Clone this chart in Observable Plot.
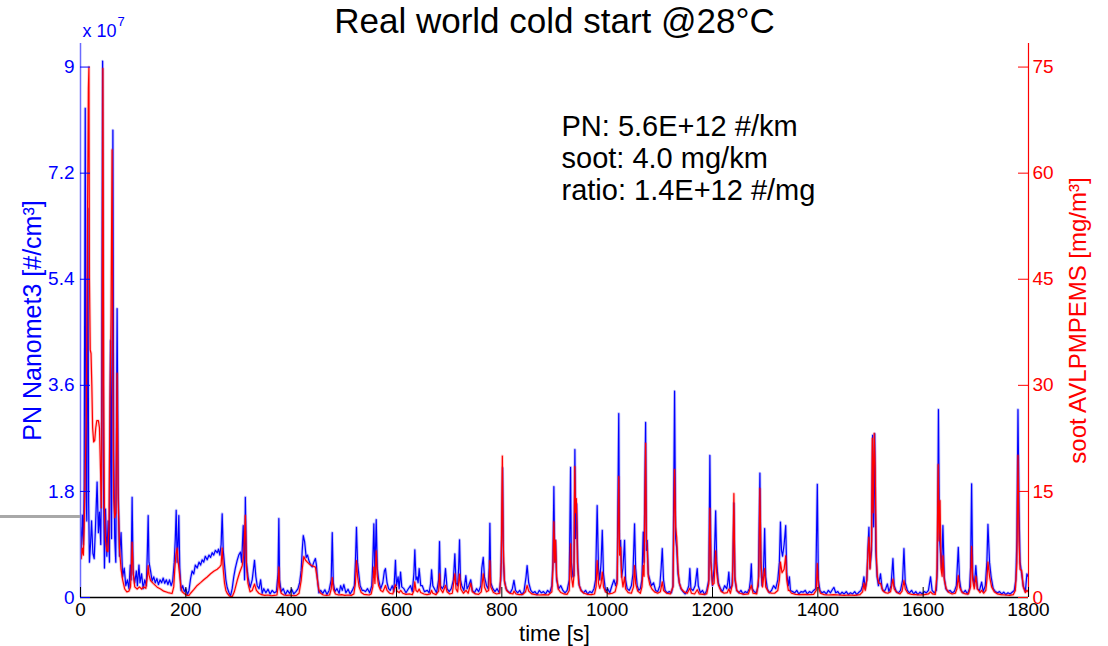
<!DOCTYPE html>
<html>
<head>
<meta charset="utf-8">
<script src="https://cdn.jsdelivr.net/npm/d3@7"></script>
<script src="https://cdn.jsdelivr.net/npm/@observablehq/plot@0.6"></script>
<style>
  html, body { margin: 0; padding: 0; background: #fff; }
  #wrap { position: relative; width: 1108px; height: 646px; overflow: hidden; }
  #edge { position: absolute; left: 0; top: 515px; width: 80px; height: 3px; background: #a8a8a8; }
</style>
</head>
<body>
<div id="wrap"><div id="edge"></div></div>
<script>
// ---- text ----
const titleText = "Real world cold start @28°C";
const xLabel = "time [s]";
const leftLabel = "PN Nanomet3 [#/cm³]";
const rightLabel = "soot AVLPMPEMS [mg/m³]";
const exponentBase = "x 10";
const exponentPower = "7";
const annotationLines = ["PN: 5.6E+12 #/km", "soot: 4.0 mg/km", "ratio: 1.4E+12 #/mg"];

// ---- ticks ----
const timeTicks = [0, 200, 400, 600, 800, 1000, 1200, 1400, 1600, 1800];
const pnTicks = [0, 1.8, 3.6, 5.4, 7.2, 9];          // x 10^7 #/cm3
const sootTicks = [0, 15, 30, 45, 60, 75];           // mg/m3

// ---- PN (Nanomet3), [time s, value x1e7 #/cm3] ----
const pnPoints = [[0,1.2],[1.5,0.75],[3.5,1.4],[5.5,0.9],[7,1.9],[9,8.3],[10.5,1.8],[12,1.3],[14,6.6],[15.5,1.6],[17,0.6],[19,0.9],[21,1.3],[23.5,0.75],[26,0.66],[28.5,1.2],[31.5,1.96],[34,1.1],[36,1.45],[38.5,0.9],[40,2.5],[42,9.1],[43.5,2.0],[45.5,0.5],[47.5,1.5],[50,0.7],[52.5,1.3],[55,0.6],[57,4.36],[59,1.0],[61.5,7.93],[63,2.5],[65,1.0],[67,0.6],[69.5,4.9],[71.5,1.9],[74,0.7],[77,1.1],[80,0.35],[83,0.5],[86,0.2],[89,0.3],[92,0.15],[94.5,0.55],[96,0.3],[98,1.70],[100,0.4],[103,0.25],[106,0.45],[108,0.2],[111,0.55],[113,0.25],[116,0.4],[119,0.15],[122,0.3],[125,0.2],[127,0.8],[128.5,1.39],[130,0.6],[133,0.45],[136,0.28],[139,0.35],[142,0.25],[145,0.32],[148,0.22],[151,0.3],[154,0.25],[157,0.33],[160,0.24],[163,0.3],[166,0.22],[169,0.3],[172,0.2],[175,0.28],[178,0.6],[180,1.0],[181.7,1.48],[183.5,0.6],[185,0.9],[186.7,1.39],[188.5,0.5],[191,0.12],[194,0.2],[197,0.1],[200,0.15],[203,0.05],[206,0.12],[209,0.32],[212,0.45],[215,0.4],[218,0.55],[221.6,0.5],[225,0.6],[228,0.55],[231,0.64],[234,0.6],[237,0.7],[240.5,0.64],[244,0.72],[247,0.68],[250,0.76],[253,0.72],[256,0.8],[259.6,0.76],[262,0.82],[264.6,0.72],[267,0.9],[269,1.42],[271,0.8],[273.5,0.55],[276,0.3],[278.5,0.17],[282,0.08],[285,0.03],[288,0.15],[291,0.35],[294,0.5],[297.5,0.63],[300.5,0.72],[303.8,0.77],[306,0.6],[309,1.22],[311.5,0.3],[313,1.70],[315,0.6],[318,0.35],[322,0.17],[326,0.3],[330.4,0.63],[333,0.35],[335.5,0.2],[339,0.15],[342,0.3],[345,0.07],[348,0.15],[352,0.08],[356,0.14],[360,0.06],[364,0.12],[368,0.08],[372,0.1],[375,0.4],[376.6,1.34],[378,0.3],[381,0.1],[385,0.15],[389,0.05],[393,0.12],[397,0.07],[401,0.14],[405,0.06],[409,0.1],[413,0.15],[416,0.25],[419,0.46],[421,0.8],[423,1.05],[425.5,0.95],[428.5,0.68],[431,0.72],[433.6,0.63],[437,0.55],[440,0.52],[443,0.6],[446,0.66],[448,0.55],[449.5,0.35],[452.6,0.08],[456,0.12],[460,0.07],[464,0.13],[468,0.05],[472,0.12],[476,0.3],[478,1.10],[480,0.25],[483,0.1],[487,0.15],[491,0.07],[494,0.2],[497,0.12],[500,0.22],[504,0.08],[508,0.14],[512,0.06],[516,0.12],[520,0.2],[522,0.6],[524,1.19],[526,0.6],[529,0.35],[531,0.2],[535,0.12],[538,0.12],[541,0.1],[545,0.15],[549,0.08],[553,0.2],[555,0.6],[557,1.25],[559,0.4],[561.5,1.32],[563.5,0.5],[566,0.3],[570,0.15],[574,0.25],[577,0.45],[579,0.49],[582,0.25],[585,0.15],[588,0.12],[592,0.2],[595,0.1],[598,0.63],[600,0.2],[603,0.35],[605,0.15],[607.7,0.43],[610,0.18],[614,0.15],[618,0.08],[622,0.14],[626.7,0.2],[630,0.1],[633,0.4],[634.8,0.81],[637,0.3],[639,0.35],[641,0.25],[643,0.49],[646,0.2],[649,0.2],[653,0.1],[658.5,0.12],[662,0.08],[665,0.25],[666.6,0.47],[669,0.2],[672,0.15],[676,0.08],[680,0.3],[681.7,0.95],[683.5,0.2],[687,0.15],[690,0.2],[693,0.49],[696,0.15],[700,0.1],[704,0.15],[708,0.3],[710.8,0.74],[713,0.25],[716,0.2],[718,0.5],[719.7,0.98],[721.5,0.3],[724,0.2],[728,0.12],[731.7,0.37],[734,0.15],[737,0.2],[741,0.3],[744,0.12],[748,0.08],[752,0.15],[756,0.1],[760,0.2],[762,0.5],[764.7,0.68],[767,0.35],[771,0.2],[774,0.15],[776,0.5],[777.3,1.26],[779,0.25],[783,0.15],[787,0.1],[791,0.15],[795,0.08],[798,0.3],[800,1.2],[801.4,2.2],[803,0.6],[805,0.29],[808,0.15],[812,0.1],[816,0.08],[820,0.15],[823,0.29],[826,0.12],[830,0.08],[834,0.12],[838,0.05],[842,0.1],[846,0.35],[848,0.54],[851,0.25],[855,0.12],[859,0.08],[863,0.1],[867,0.05],[871,0.12],[875,0.08],[879,0.1],[883,0.06],[887,0.12],[891,0.08],[895,0.2],[897,0.6],[898.8,1.88],[900.5,0.6],[902,0.97],[904,0.3],[908,0.15],[912,0.2],[916,0.12],[920,0.08],[924,0.12],[928,0.3],[930.5,2.21],[932,0.6],[935,0.35],[937,0.37],[938.7,2.51],[940,1.0],[942,1.59],[944.5,0.5],[947,0.2],[951,0.12],[955,0.08],[959,0.12],[963,0.06],[967,0.1],[971,0.08],[975,0.15],[978,0.3],[981,1.56],[983.5,0.5],[986,0.3],[988.5,0.6],[990.7,1.14],[993,0.4],[997,0.1],[1001,0.15],[1005,0.08],[1009,0.2],[1013,0.3],[1016,0.2],[1019,0.3],[1022,3.12],[1023.5,0.8],[1025.5,0.97],[1027.5,0.35],[1030,0.5],[1033,0.97],[1035,0.3],[1038,0.15],[1042,0.12],[1046,0.2],[1049,0.4],[1052,1.25],[1054,0.5],[1057,0.2],[1060,0.12],[1063,0.15],[1066,0.3],[1068.5,1.11],[1070,0.6],[1073,2.97],[1074.5,0.8],[1076,0.97],[1078,0.4],[1081,0.3],[1084,0.2],[1088,0.25],[1092,0.12],[1096,0.1],[1100,0.2],[1102.5,0.5],[1104.6,0.83],[1107,0.3],[1110,0.12],[1114,0.08],[1118,0.1],[1122,0.08],[1125,0.2],[1128,3.50],[1130,1.0],[1132,0.85],[1134.5,0.4],[1137,0.25],[1140,0.15],[1144,0.1],[1148,0.06],[1152,0.12],[1155,0.2],[1157,0.49],[1159,0.15],[1163,0.12],[1167,0.2],[1171,0.49],[1173,0.2],[1177,0.08],[1181,0.12],[1185,0.05],[1189,0.12],[1193,0.3],[1195,2.41],[1197,0.6],[1200,0.2],[1203,0.5],[1206,1.47],[1208,0.6],[1211,0.25],[1215,0.15],[1219,0.1],[1223,0.2],[1227,0.15],[1229,0.25],[1231,0.43],[1233,0.15],[1237,0.2],[1239,0.6],[1240.6,1.6],[1242.5,0.3],[1246,0.12],[1250,0.08],[1254,0.12],[1258,0.06],[1262,0.1],[1266,0.08],[1270,0.15],[1272,0.3],[1273.7,0.57],[1275.5,0.15],[1279,0.1],[1283,0.08],[1287,0.2],[1290,2.11],[1292,0.5],[1294,0.2],[1297,0.5],[1299,1.17],[1301,0.35],[1304,0.15],[1308,0.08],[1312,0.12],[1316,0.2],[1320,0.15],[1324,0.3],[1327,0.6],[1329,1.28],[1331,0.8],[1333,0.7],[1336,0.9],[1339,1.22],[1341,0.4],[1344,0.2],[1346,0.35],[1348,0.12],[1352,0.1],[1356,0.08],[1360,0.12],[1364,0.06],[1368,0.1],[1372,0.09],[1376,0.12],[1380,0.06],[1384,0.1],[1388,0.08],[1392,0.12],[1396,0.15],[1399,1.92],[1401,0.3],[1404,0.12],[1408,0.08],[1412,0.1],[1416,0.06],[1420,0.12],[1424,0.08],[1428,0.14],[1430.6,0.17],[1434,0.08],[1438,0.1],[1442,0.05],[1446,0.09],[1450,0.06],[1454,0.1],[1458,0.05],[1462,0.08],[1466,0.06],[1470,0.1],[1474,0.05],[1478,0.09],[1482,0.12],[1485,0.2],[1487.5,0.35],[1490,0.15],[1493,0.3],[1495,0.8],[1497,1.19],[1499,0.5],[1502,0.8],[1504,2.75],[1506,1.2],[1508,2.78],[1510,0.8],[1512.5,0.35],[1515,0.2],[1519,0.4],[1522,0.15],[1526,0.1],[1529,0.15],[1532,0.23],[1535,0.1],[1539,0.2],[1542.6,0.66],[1545,0.2],[1549,0.1],[1553,0.08],[1557,0.12],[1561,0.3],[1563.5,0.83],[1566,0.25],[1570,0.12],[1574,0.08],[1578,0.12],[1582,0.06],[1586,0.1],[1590,0.05],[1594,0.09],[1598,0.06],[1602,0.1],[1606,0.08],[1610,0.12],[1614,0.35],[1617,0.12],[1621,0.08],[1625,0.12],[1627,0.5],[1629,3.19],[1631,1.0],[1633,0.75],[1635,0.5],[1637.5,1.22],[1640,0.35],[1643,0.15],[1647,0.1],[1651,0.12],[1655,0.08],[1659,0.1],[1663,0.2],[1666.7,0.85],[1669,0.3],[1672,0.12],[1676,0.08],[1680,0.12],[1684,0.06],[1688,0.15],[1690,0.5],[1692,1.93],[1694,0.4],[1697,0.2],[1700,0.54],[1703,0.15],[1707,0.12],[1711,0.26],[1714,0.1],[1718,0.2],[1721,0.6],[1723,1.24],[1726,0.6],[1729,0.35],[1733,0.15],[1737,0.1],[1741,0.08],[1745,0.1],[1749,0.06],[1753,0.09],[1757,0.05],[1761,0.08],[1765,0.06],[1769,0.09],[1773,0.12],[1776,0.3],[1778,1.0],[1780,3.19],[1782,1.5],[1784,0.6],[1787,0.4],[1790,0.2],[1794,0.1],[1797,0.4],[1800,0.35]];

// ---- soot (AVL PM PEMS), [time s, mg/m3] ----
const sootPoints = [[0,8.5],[1.5,5.5],[3.5,7],[5.5,6],[7,10],[9,18],[11,25],[13,50],[15,72],[16,75],[17,45],[18.5,35],[20,34.5],[21.5,30],[23,24],[25,22],[27,22.2],[29,24],[31,25],[34,25],[36,24],[38,18],[39.5,12.7],[41,30],[42.5,74.8],[44,30],[45.5,12],[47.5,8],[50,6.6],[52,6.5],[54,10],[56,28],[58,40],[60,63.3],[61.5,30],[63,14],[65,11.3],[67,12],[69.5,31.7],[71.5,14],[74,7],[77,4],[80,2.5],[84,1.2],[88,0.8],[92,0.9],[95,1.5],[97,5],[98,7.8],[100,3.5],[103,1.5],[107.6,1.2],[112,1.5],[116,1.2],[120,1.5],[124,1.3],[127,3],[128.5,4.5],[130,3.2],[133,2.4],[138,2.0],[145.6,1.46],[152,1.2],[158,0.9],[166,0.7],[174,0.57],[177,1.5],[179,4],[181,6],[183.5,7.0],[185.5,5],[188,3.4],[190.5,1.5],[193,0.8],[198,0.5],[202.6,0.3],[206,0.3],[209,0.6],[215,1.1],[221.6,1.7],[228,2.1],[234,2.5],[240.5,2.9],[247,3.35],[253,3.7],[259.6,4.0],[264,4.3],[267,4.6],[269,7.0],[271,4],[273.5,2.0],[276,1.0],[278.5,0.6],[283,0.2],[288,0.1],[292,0.8],[297.5,2.4],[302,3.5],[307,4.5],[310,6],[313,11.6],[315,4.5],[318,2],[322,0.8],[326,1.0],[330.4,1.9],[334,1.0],[338.6,0.6],[344,0.4],[350,0.3],[356,0.35],[362,0.25],[368,0.3],[373,0.35],[375,1.5],[376.6,4.3],[378,1.5],[381,0.6],[386,0.35],[392,0.3],[398,0.35],[404,0.25],[410,0.3],[415,0.6],[419,2.4],[421,4],[424,5.8],[427,5.3],[430.7,5.0],[435,4.7],[440,4.5],[446,4.3],[449,3],[450.8,1.9],[453,1.0],[456,0.6],[461,0.35],[467,0.3],[473,0.35],[476,1.2],[478,2.8],[480,1.2],[484,0.5],[490,0.35],[496,0.4],[502,0.3],[508,0.35],[514,0.3],[519,0.5],[522,2],[524,5.2],[526,3],[529,1.5],[533,0.7],[538,0.45],[543,0.4],[548,0.35],[552,0.5],[555,1.5],[557,4.3],[559,2.0],[561.5,6.6],[563.5,3],[566,1.7],[570,1.0],[574,0.8],[577,1.3],[579,1.7],[582,1.0],[587,0.6],[593,0.5],[598,1.8],[601,0.9],[605,0.7],[608,1.0],[612,0.6],[618,0.45],[625,0.5],[630,0.4],[633,1.0],[634.8,2.2],[637,1.0],[640,0.8],[643,1.2],[646,0.7],[652,0.5],[658,0.4],[664,0.5],[666.6,1.0],[669,0.6],[675,0.4],[680,0.9],[681.7,3.35],[683.5,1.2],[688,0.7],[693,1.7],[696,0.8],[701,0.5],[706,0.6],[710.8,3.35],[713,1.2],[716,0.8],[719.7,3.3],[722,1.2],[727,0.6],[732,1.0],[736,0.6],[741,2.0],[744,0.8],[750,0.5],[756,0.45],[761,0.8],[764.7,3.35],[767,1.5],[771,0.8],[775,1.0],[777.3,5.2],[779,1.5],[784,0.7],[790,0.5],[796,0.6],[799,5],[801,20.0],[802.5,8],[805,2.2],[809,1.0],[815,0.6],[821,0.5],[823,0.9],[827,0.5],[833,0.4],[840,0.45],[845,0.8],[848,1.7],[851,0.9],[857,0.5],[864,0.4],[872,0.35],[880,0.4],[888,0.35],[895,0.8],[897,4],[898.8,10.7],[900.5,5],[902,8.1],[904,3],[907,1.2],[912,0.7],[918,0.5],[924,0.45],[928,1.0],[930.5,7.6],[932,3],[935,1.5],[936.8,3],[938.5,18.5],[940,12],[941.5,14],[943.5,5],[946,2],[950,1.0],[956,0.6],[963,0.45],[970,0.4],[976,0.5],[979,1.5],[981,5.2],[983.5,2],[986,1.3],[988.5,2],[990.7,3.6],[993,1.5],[997,0.8],[1003,0.5],[1010,0.6],[1015,0.8],[1019,2],[1022,17.1],[1023.5,6],[1025.5,7.1],[1027.5,3],[1030,1.5],[1033,2.9],[1035,1.2],[1040,0.7],[1046,0.6],[1050,1.5],[1052,4.5],[1054,2],[1058,0.9],[1063,0.6],[1066,1.5],[1068.5,4.5],[1070,3],[1073,21.8],[1074.5,8],[1076,7.1],[1078,3],[1081,1.8],[1085,1.2],[1090,0.8],[1096,0.6],[1101,0.8],[1104.6,2.2],[1107,1.0],[1113,0.6],[1120,0.5],[1125,1.5],[1128,18.1],[1130,10],[1132,8.5],[1134.5,4],[1137,2],[1141,1.2],[1146,0.8],[1152,0.6],[1157,1.3],[1160,0.6],[1166,0.5],[1171,1.1],[1175,0.5],[1182,0.45],[1189,0.5],[1193,2],[1195,12.6],[1197,5],[1200,1.8],[1203,2],[1206,6.6],[1208,3.5],[1211,1.8],[1216,0.9],[1222,0.6],[1228,0.7],[1231,1.2],[1234,0.6],[1238,2],[1240.6,14.7],[1242.5,3],[1246,1.0],[1252,0.6],[1260,0.45],[1268,0.5],[1273.7,1.7],[1277,0.6],[1284,0.5],[1288,3],[1290,15.4],[1292,5],[1295,1.5],[1299,4.1],[1301,1.5],[1306,0.8],[1312,0.6],[1318,0.6],[1324,1.0],[1327,2.5],[1329,5.0],[1332,3.5],[1336,4],[1339,5.9],[1341,2.5],[1344,1.0],[1346,1.0],[1350,0.6],[1358,0.45],[1366,0.4],[1375,0.45],[1384,0.4],[1392,0.45],[1397,1.0],[1399,4.8],[1401,1.5],[1405,0.6],[1412,0.4],[1420,0.35],[1430,0.4],[1440,0.35],[1450,0.3],[1460,0.35],[1470,0.3],[1480,0.4],[1485,0.8],[1487.5,2.0],[1490,1.0],[1493,2.5],[1495,6],[1497,8.5],[1499,4],[1502,8],[1503.5,22.5],[1505,12],[1507,23.2],[1509,18],[1511,6],[1513,3],[1516,2.0],[1519,2.0],[1523,1.0],[1528,0.7],[1533,0.6],[1538,0.8],[1542.6,2.6],[1545,1.2],[1550,0.7],[1556,0.5],[1560,0.9],[1563.5,2.4],[1566,1.2],[1571,0.6],[1578,0.45],[1586,0.4],[1594,0.35],[1602,0.4],[1610,0.5],[1614,0.8],[1618,0.5],[1623,0.45],[1626,3],[1628.5,18.8],[1630,8],[1632,13.7],[1634,4],[1636,3],[1637.5,5.9],[1640,2.5],[1644,1.2],[1649,0.7],[1655,0.5],[1661,0.6],[1664,1.2],[1666.7,3.1],[1669,1.5],[1674,0.7],[1680,0.5],[1686,0.5],[1690,1.5],[1692,7.2],[1694,2.5],[1697,1.2],[1700,3.0],[1703,1.2],[1708,0.7],[1711,1.0],[1715,0.6],[1719,1.0],[1721,2.5],[1723,5.0],[1726,3],[1730,1.5],[1735,0.8],[1741,0.5],[1748,0.4],[1756,0.35],[1764,0.3],[1771,0.4],[1775,1.0],[1778,5],[1780,20.1],[1782,8],[1784,4.0],[1787,3.8],[1790,1.5],[1794,0.7],[1797,1.0],[1800,0.8]];

// right axis (75 mg/m3) aligned with left axis (9 x1e7)
const sootToPn = pnTicks[pnTicks.length - 1] / sootTicks[sootTicks.length - 1];

const W = 1108, H = 646, mL = 80, mR = 80, mT = 43, mB = 49;
const frameW = W - mL - mR, frameH = H - mT - mB;
const font = "'Liberation Sans', Arial, Helvetica, sans-serif";
const BLUE = "#0000ff", RED = "#ff0000";

const chart = Plot.plot({
  width: W, height: H,
  marginLeft: mL, marginRight: mR, marginTop: mT, marginBottom: mB,
  style: {fontFamily: font, background: "white", overflow: "visible"},
  x: {domain: [0, 1800]},
  y: {domain: [0, 9.4]},
  marks: [
    // series (halo + core)
    Plot.line(pnPoints, {x: d => d[0], y: d => d[1], stroke: BLUE, strokeWidth: 3, strokeOpacity: 0.22, clip: true}),
    Plot.line(pnPoints, {x: d => d[0], y: d => d[1], stroke: BLUE, strokeWidth: 1.2, clip: true}),
    Plot.line(sootPoints, {x: d => d[0], y: d => d[1] * sootToPn, stroke: RED, strokeWidth: 3, strokeOpacity: 0.2, clip: true}),
    Plot.line(sootPoints, {x: d => d[0], y: d => d[1] * sootToPn, stroke: RED, strokeWidth: 1.2, clip: true}),
    // axis lines
    Plot.ruleX([0], {stroke: "#6b6bff", strokeWidth: 1.5}),
    Plot.ruleX([1800], {stroke: RED, strokeWidth: 1.2}),
    Plot.ruleY([0], {stroke: "black", strokeWidth: 1.5}),
    // inward ticks
    Plot.tickY(pnTicks, {y: d => d, stroke: BLUE, insetRight: frameW - 10}),
    Plot.tickY(sootTicks, {y: d => d * sootToPn, stroke: RED, insetLeft: frameW - 10}),
    Plot.tickX(timeTicks, {x: d => d, stroke: "black", insetTop: frameH - 10}),
    // tick labels
    Plot.axisX({ticks: timeTicks, tickSize: 0, tickPadding: 5, fontSize: 19, color: "black", label: null, tickFormat: d => String(d)}),
    Plot.axisY({ticks: pnTicks, anchor: "left", tickSize: 0, tickPadding: 6, fontSize: 19, color: BLUE, label: null, tickFormat: d => String(d)}),
    Plot.axisY(sootTicks.map(v => v * sootToPn), {anchor: "right", tickSize: 0, tickPadding: 4, fontSize: 19, color: RED, label: null, tickFormat: d => String(Math.round(d / sootToPn))}),
    // titles and labels
    Plot.text([titleText], {frameAnchor: "top", dy: -22, lineAnchor: "middle", fontSize: 35, fill: "black"}),
    Plot.text([xLabel], {frameAnchor: "bottom", dy: 36, lineAnchor: "middle", fontSize: 22, fill: "black"}),
    Plot.text([leftLabel], {frameAnchor: "left", dx: -48, rotate: -90, textAnchor: "middle", lineAnchor: "middle", fontSize: 25, fill: BLUE}),
    Plot.text([rightLabel], {frameAnchor: "right", dx: 50, rotate: -90, textAnchor: "middle", lineAnchor: "middle", fontSize: 24, fill: RED}),
    Plot.text([exponentBase], {frameAnchor: "top-left", dx: 2, dy: -12, textAnchor: "start", lineAnchor: "middle", fontSize: 18, fill: BLUE}),
    Plot.text([exponentPower], {frameAnchor: "top-left", dx: 37, dy: -22, textAnchor: "start", lineAnchor: "middle", fontSize: 13, fill: BLUE}),
    Plot.text([annotationLines.join("\n")], {frameAnchor: "top-left", dx: 481, dy: 70, textAnchor: "start", lineAnchor: "top", lineHeight: 1.103, fontSize: 29, fill: "black"})
  ]
});
document.getElementById("wrap").prepend(chart);
</script>
</body>
</html>
